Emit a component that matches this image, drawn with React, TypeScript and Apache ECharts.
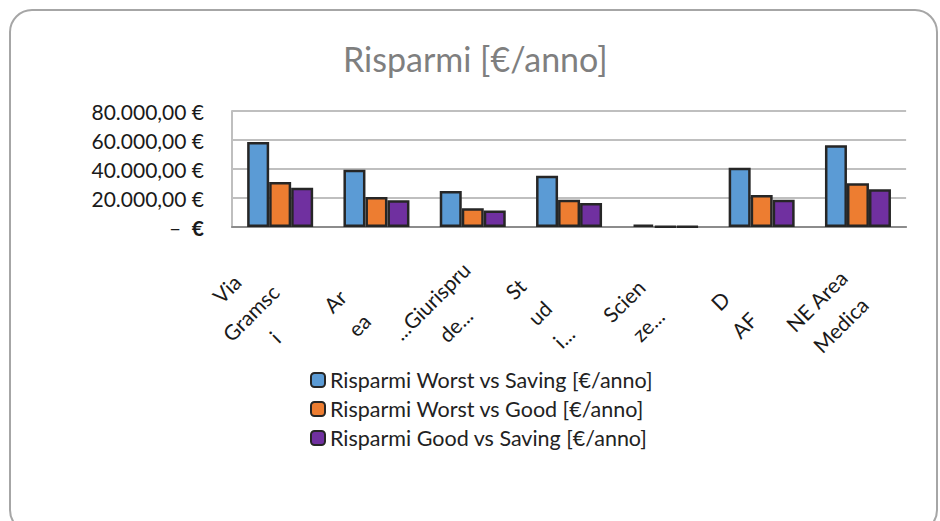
import React, { useEffect, useRef } from "react";
import * as echarts from "echarts";

const categories = [
  "Via\nGramsc\ni",
  "Ar\nea",
  "...Giurispru\nde...",
  "St\nud\ni...",
  "Scien\nze...",
  "D\nAF",
  "NE Area\nMedica",
];
const worstVsSaving = [58600, 39500, 24900, 35300, 1600, 40800, 56400];
const worstVsGood = [31000, 20700, 13000, 18800, 500, 22000, 30200];
const goodVsSaving = [27000, 18500, 11400, 16500, 400, 18800, 26100];
const seriesNames = [
  "Risparmi Worst vs Saving [€/anno]",
  "Risparmi Worst vs Good [€/anno]",
  "Risparmi Good vs Saving [€/anno]",
];
const colors = ["#5B9BD5", "#ED7D31", "#7030A0"];
const titleText = "Risparmi [€/anno]";

const FONT = "Lato, 'Open Sans', sans-serif";

function fmtEuro(v: number): string {
  if (v === 0) return "{d|–}  {e|€}";
  const s = Math.round(v).toString().replace(/\B(?=(\d{3})+(?!\d))/g, ".");
  return s + ",00 €";
}

export default function App() {
  const ref = useRef<HTMLDivElement>(null);
  useEffect(() => {
    document.body.style.margin = "0";
    if (!ref.current) return;
    const chart = echarts.init(ref.current, undefined, { renderer: "svg" });
    const data = [worstVsSaving, worstVsGood, goodVsSaving];
    chart.setOption({
      animation: false,
      backgroundColor: "#ffffff",
      textStyle: { fontFamily: FONT },
      title: {
        text: titleText,
        left: 343,
        top: 41,
        padding: 0,
        textStyle: { fontFamily: FONT, fontSize: 34, fontWeight: "normal", color: "#7f7f7f" },
      },
      graphic: [
        {
          type: "rect",
          shape: { x: 10, y: 10, width: 927, height: 522, r: 22 },
          style: { fill: "none", stroke: "#a6a6a6", lineWidth: 2 },
          z: 100,
        },
      ],
      legend: {
        orient: "vertical",
        left: 310,
        top: 369,
        padding: 0,
        itemWidth: 14,
        itemHeight: 14,
        itemGap: 7,
        textStyle: { fontFamily: FONT, fontSize: 21.5, color: "#222", lineHeight: 22 },
        data: seriesNames,
      },
      grid: { left: 232, right: 22, top: 111, bottom: 294, containLabel: false },
      xAxis: {
        type: "category",
        data: categories,
        axisLine: { lineStyle: { color: "#8c8c8c", width: 2 } },
        axisTick: { show: false },
        axisLabel: {
          interval: 0,
          rotate: 45,
          align: "center",
          verticalAlign: "middle",
          margin: 56,
          padding: [0, 84, 0, 0],
          fontFamily: FONT,
          fontSize: 21,
          lineHeight: 34,
          color: "#1a1a1a",
        },
      },
      yAxis: {
        type: "value",
        min: 0,
        max: 80000,
        interval: 20000,
        axisLine: { show: true, lineStyle: { color: "#bfbfbf", width: 2 } },
        axisTick: { show: false },
        splitLine: { lineStyle: { color: "#bfbfbf", width: 2 } },
        axisLabel: {
          margin: 28,
          fontFamily: FONT,
          fontSize: 21,
          color: "#1a1a1a",
          formatter: fmtEuro,
          rich: {
            d: { fontFamily: FONT, fontSize: 21, color: "#1a1a1a" },
            e: { fontFamily: FONT, fontSize: 21, color: "#1a1a1a", fontWeight: "bold" },
          },
        },
      },
      series: seriesNames.map((name, i) => ({
        name,
        type: "bar",
        data: data[i],
        barWidth: 22,
        barGap: "0%",
        itemStyle: { color: colors[i], borderColor: "#262626", borderWidth: 2.5 },
      })),
    });
    return () => chart.dispose();
  }, []);
  return <div ref={ref} style={{ width: 940, height: 521 }} />;
}
